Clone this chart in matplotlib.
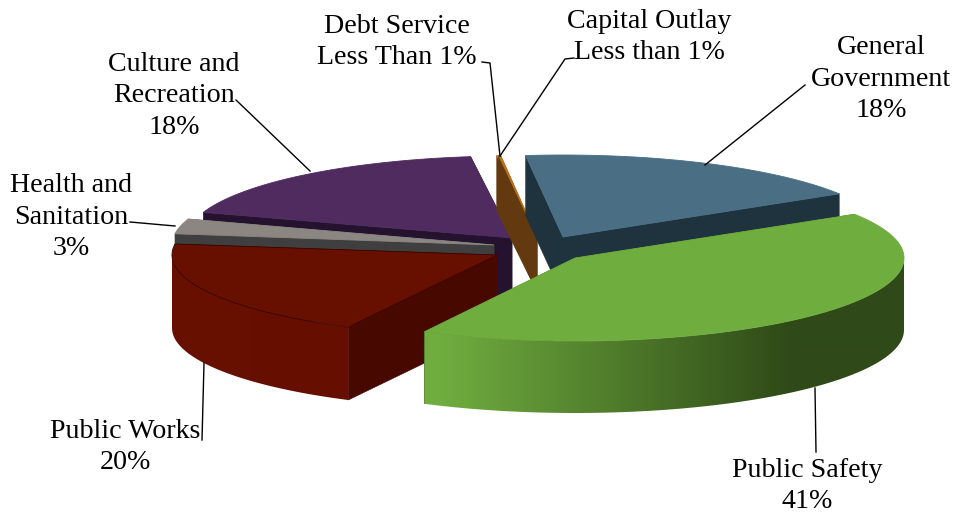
import numpy as np
import matplotlib
matplotlib.use('Agg')
import matplotlib.pyplot as plt
from matplotlib.colors import to_rgb
from matplotlib.patches import Polygon

# Dados (sentido horario, comecando em General Government)
categories = ['General\nGovernment', 'Public Safety', 'Public Works',
              'Health and\nSanitation', 'Culture and\nRecreation',
              'Debt Service', 'Capital Outlay']
values = [18, 41.4, 19.6, 2.9, 17.9, 0.1, 0.1]
pct_labels = ['18%', '41%', '20%', '3%', '18%', 'Less Than 1%', 'Less than 1%']

start_angle = 96.6

# Estilo de cada fatia: centro na tela, raios, altura, cores
centers = [(563, 237), (575, 258), (497, 255), (494, 245), (512, 238), (537, 237), (537, 237)]
radii = [(325, 82), (329, 83), (325, 81), (322, 83), (325, 82), (316, 82), (316, 82)]
depths = [60, 72, 73, 60, 60, 55, 55]
top_colors = ['#4a6e84', '#70ad3f', '#671000', '#8c8683', '#4f2b5f', '#b8721c', '#b8721c']
cut_colors = ['#1f333e', '#2f4a18', '#470800', '#3f3f3f', '#24122f', '#633a0f', '#633a0f']
draw_order = [4, 5, 6, 0, 3, 2, 1]

# Posicao dos rotulos e linhas de chamada
label_pos = [(881, 79), (807, 486), (125, 447), (71, 217), (174, 96), (397, 42), (649, 37)]
leaders = [[(705, 165), (805, 85)], [(815, 388), (816, 452)], [(204, 363), (202, 440)],
           [(130, 222), (175, 226)], [(236, 100), (310, 171)],
           [(482, 62), (490, 63), (500, 156)], [(574, 58), (565, 59), (500, 156)]]

fig = plt.figure(figsize=(9.57, 5.14), dpi=100)
ax = fig.add_axes([0, 0, 1, 1])

total = sum(values)
sweeps = [v / total * 360 for v in values]
ends = start_angle - np.cumsum(sweeps)
starts = ends + np.array(sweeps)


def side_gradient(i, x):
    # gradiente na lateral da fatia verde e leve na vermelha
    if i == 1:
        t = np.clip((x - 440) / 350, 0, 1)
    elif i == 2:
        t = np.clip((x - 250) / 500, 0, 1) * 0.1
    else:
        t = np.ones_like(x)
    a = np.array(to_rgb(top_colors[i]))
    b = np.array(to_rgb(cut_colors[i]))
    return a + (b - a) * t[:, None]


for n, i in enumerate(draw_order):
    cx, cy = centers[i]
    rx, ry = radii[i]
    d = depths[i]
    th = np.radians(np.linspace(starts[i], ends[i], 400))
    xs = cx + rx * np.cos(th)
    ys = cy - ry * np.sin(th)
    z = n + 1

    # faces de corte
    for k in [0, -1]:
        ax.fill([cx, xs[k], xs[k], cx], [cy, ys[k], ys[k] + d, cy + d],
                color=cut_colors[i], lw=0.4, zorder=z)

    # lateral externa com gradiente recortado
    front = np.sin(th) <= 0
    if front.any():
        fx, fy = xs[front], ys[front]
        outline = np.c_[np.r_[fx, fx[::-1]], np.r_[fy, fy[::-1] + d]]
        grid = np.linspace(fx.min(), fx.max(), 300)
        img = ax.imshow(side_gradient(i, grid)[None, :, :], aspect='auto', zorder=z,
                        extent=(fx.min(), fx.max(), fy.max() + d, fy.min()))
        img.set_clip_path(Polygon(outline, transform=ax.transData))

    # tampa
    edge = '#3a0600' if i == 2 else top_colors[i]
    ax.fill(np.r_[cx, xs], np.r_[cy, ys], facecolor=top_colors[i], edgecolor=edge,
            lw=0.6, zorder=z)

for pts in leaders:
    p = np.array(pts)
    ax.plot(p[:, 0], p[:, 1], color='black', lw=1, zorder=20)

for name, pct, pos in zip(categories, pct_labels, label_pos):
    ax.text(pos[0], pos[1], name + '\n' + pct, ha='center', va='center', fontsize=20.2,
            family='Liberation Serif', color='black', linespacing=1.35, zorder=21)

ax.set_xlim(0, 957)
ax.set_ylim(514, 0)
ax.axis('off')

fig.savefig('out.png', dpi=100)
